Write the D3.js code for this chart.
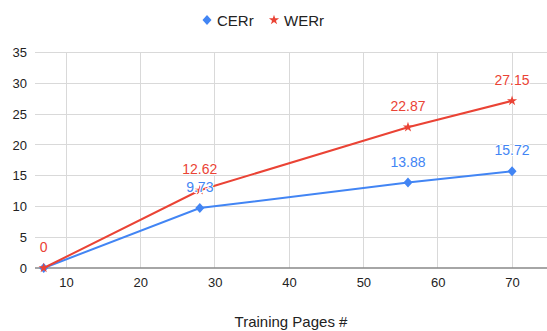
<!DOCTYPE html>
<html><head><meta charset="utf-8">
<script src="https://cdn.jsdelivr.net/npm/d3@7"></script>
<style>body{margin:0;background:#fff;} svg{display:block;font-family:Arial,"Liberation Sans",sans-serif;}</style>
</head><body><svg id="c" width="547" height="331"></svg>
<script>
const pages = [7, 28, 56, 70];
const cerValues = [0, 9.73, 13.88, 15.72];
const werValues = [0, 12.62, 22.87, 27.15];
const seriesNames = ["CERr", "WERr"];
const xTicks = [10, 20, 30, 40, 50, 60, 70];
const yTicks = [0, 5, 10, 15, 20, 25, 30, 35];
const xTitle = "Training Pages #";

const FONT = "Arial,'Liberation Sans',sans-serif";
const svg = d3.select("#c");
const W = 547, H = 331;
const m = {l: 35, r: 0, t: 52.5, b: 63};
const x = d3.scaleLinear().domain([5.83, 74.7]).range([m.l, W - m.r]);
const y = d3.scaleLinear().domain([0, 35]).range([H - m.b, m.t]);
const blue = "#4285F4", red = "#EA4335";

// horizontal grid
svg.append("g").selectAll("line").data(yTicks.filter(d => d > 0)).join("line")
  .attr("x1", m.l).attr("x2", W).attr("y1", d => y(d)).attr("y2", d => y(d))
  .attr("stroke", "#d9d9d9").attr("stroke-width", 1).attr("shape-rendering", "crispEdges");
// vertical grid
svg.append("g").selectAll("line").data(xTicks).join("line")
  .attr("x1", d => x(d)).attr("x2", d => x(d)).attr("y1", y(35)).attr("y2", y(0))
  .attr("stroke", "#d9d9d9").attr("stroke-width", 1).attr("shape-rendering", "crispEdges");

// y axis labels
const ya = svg.append("g").attr("transform", `translate(${m.l},0)`)
  .call(d3.axisLeft(y).tickValues(yTicks).tickSize(0).tickPadding(8));
ya.select(".domain").remove();
ya.selectAll("text").attr("font-size", 13).attr("fill", "#222").attr("font-family", FONT);

// x axis labels
const xa = svg.append("g").attr("transform", `translate(0,${y(0)})`)
  .call(d3.axisBottom(x).tickValues(xTicks).tickSize(0).tickPadding(10));
xa.select(".domain").remove();
xa.selectAll("text").attr("font-size", 13).attr("fill", "#222").attr("font-family", FONT);

// baseline
svg.append("line").attr("x1", m.l).attr("x2", W).attr("y1", y(0)).attr("y2", y(0))
  .attr("stroke", "#888").attr("stroke-width", 1.3);

const series = [
  {name: seriesNames[0], values: cerValues, color: blue, sym: "diamond"},
  {name: seriesNames[1], values: werValues, color: red, sym: "star"}
];
const line = d3.line().x(d => x(d[0])).y(d => y(d[1]));
function symPath(s) {
  if (s === "diamond") return "M0,-5L4.5,0L0,5L-4.5,0Z";
  return d3.symbol(d3.symbolStar, 32)();
}
series.forEach(s => {
  const pts = pages.map((p, i) => [p, s.values[i]]);
  svg.append("path").attr("d", line(pts)).attr("fill", "none").attr("stroke", s.color).attr("stroke-width", 2);
  svg.append("g").selectAll("path").data(pts).join("path")
    .attr("transform", d => `translate(${x(d[0])},${y(d[1])})`)
    .attr("d", symPath(s.sym)).attr("fill", s.color);
});
// data labels
series.slice().reverse().forEach(s => {
  const pts = pages.map((p, i) => [p, s.values[i]]);
  svg.append("g").selectAll("text").data(pts.filter(d => !(s.sym === "diamond" && d[1] === 0))).join("text")
    .attr("x", d => x(d[0])).attr("y", d => y(d[1]) - 16)
    .attr("text-anchor", "middle").attr("font-size", 14).attr("fill", s.color)
    .attr("font-family", FONT)
    .attr("stroke", "#fff").attr("stroke-width", 2).attr("paint-order", "stroke")
    .text(d => d[1]);
});

// legend
const lg = svg.append("g").attr("transform", "translate(0,20)");
lg.append("path").attr("d", "M0,-5L4.5,0L0,5L-4.5,0Z").attr("transform", "translate(207,0)").attr("fill", blue);
lg.append("text").attr("x", 217).attr("y", 5.5).attr("font-size", 15).attr("fill", "#222").text(seriesNames[0]);
lg.append("path").attr("d", d3.symbol(d3.symbolStar, 32)()).attr("transform", "translate(274,0)").attr("fill", red);
lg.append("text").attr("x", 284).attr("y", 5.5).attr("font-size", 15).attr("fill", "#222").text(seriesNames[1]);

// x title
svg.append("text").attr("x", (m.l + W) / 2).attr("y", 327).attr("text-anchor", "middle")
  .attr("font-size", 15).attr("fill", "#222").text(xTitle);
</script></body></html>
